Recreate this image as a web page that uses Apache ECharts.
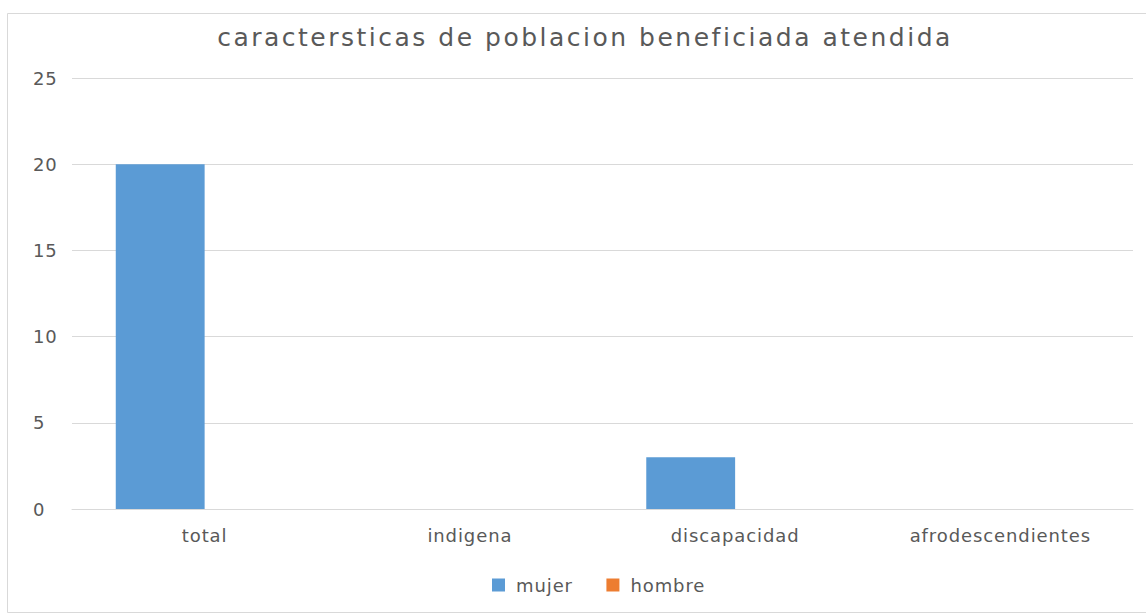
<!DOCTYPE html>
<html><head><meta charset="utf-8">
<script src="https://cdn.jsdelivr.net/npm/echarts@6/dist/echarts.min.js"></script>
<style>html,body{margin:0;padding:0;background:#fff;}#c{width:1146px;height:615px;}</style>
</head><body><div id="c"></div>
<script>
const titleText = 'caractersticas de poblacion beneficiada atendida';
const categories = ['total', 'indigena', 'discapacidad', 'afrodescendientes'];
const mujer = [20, 0, 3, 0];
const hombre = [0, 0, 0, 0];
const yTicks = [0, 5, 10, 15, 20, 25];

const chart = echarts.init(document.getElementById('c'), null, {renderer: 'svg'});
const font = '"DejaVu Sans", sans-serif';
const TITLE_SIZE = 25, LABEL_SIZE = 18;
chart.setOption({
  backgroundColor: '#fff',
  animation: false,
  textStyle: {fontFamily: font},
  graphic: [{type: 'rect', shape: {x: 7.5, y: 13.5, width: 1150, height: 599}, style: {fill: 'none', stroke: '#d9d9d9', lineWidth: 1}, silent: true, z: -1}],
  title: {text: titleText, left: 580, textAlign: 'center', top: 20,
    textStyle: {fontFamily: font, fontSize: TITLE_SIZE, fontWeight: 'normal', color: '#595959'}},
  legend: {bottom: 16, left: 487, itemWidth: 13, itemHeight: 13, itemGap: 38, icon: 'rect',
    textStyle: {fontFamily: font, fontSize: LABEL_SIZE, color: '#595959', padding: [0, 0, 0, 6]}, data: ['mujer', 'hombre']},
  grid: {left: 72, right: 13, top: 78, bottom: 106, containLabel: false},
  xAxis: {type: 'category', data: categories,
    axisLine: {show: true, lineStyle: {color: '#d9d9d9'}}, axisTick: {show: false},
    axisLabel: {fontFamily: font, fontSize: LABEL_SIZE, color: '#595959', margin: 17}},
  yAxis: {type: 'value', min: yTicks[0], max: yTicks[yTicks.length - 1], interval: 5,
    axisLine: {show: false}, axisTick: {show: false},
    splitLine: {lineStyle: {color: '#d9d9d9'}},
    axisLabel: {fontFamily: font, fontSize: LABEL_SIZE, color: '#595959', margin: 39, align: 'left'}},
  series: [
    {name: 'mujer', type: 'bar', data: mujer, itemStyle: {color: '#5b9bd5'}, barGap: '0%', barCategoryGap: '33%'},
    {name: 'hombre', type: 'bar', data: hombre, itemStyle: {color: '#ed7d31'}}
  ]
});
function spaceText() {
  document.querySelectorAll('#c svg text').forEach(t => {
    const fs = parseFloat(getComputedStyle(t).fontSize);
    t.style.letterSpacing = fs > 20 ? '2.5px' : '0.9px';
  });
}
chart.on('finished', spaceText);
spaceText();
setTimeout(spaceText, 50);
</script></body></html>
